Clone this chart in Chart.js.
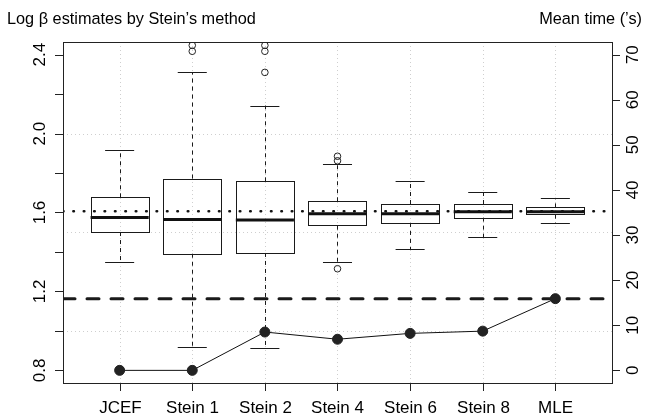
<!DOCTYPE html>
<html>
<head>
<meta charset="utf-8">
<script src="https://cdn.jsdelivr.net/npm/chart.js@4.4.0/dist/chart.umd.min.js"></script>
<style>
  html, body { margin: 0; padding: 0; background: #fff; }
  #wrap { width: 646px; height: 417px; }
</style>
</head>
<body>
<div id="wrap"><canvas id="boxChart" width="646" height="417"></canvas></div>
<script>
const categories = ['JCEF', 'Stein 1', 'Stein 2', 'Stein 4', 'Stein 6', 'Stein 8', 'MLE'];

// box statistics of the log beta estimates
const whiskerLow  = [1.350, 0.917, 0.915, 1.347, 1.415, 1.474, 1.545];
const boxLow      = [1.501, 1.391, 1.395, 1.533, 1.547, 1.574, 1.589];
const medians     = [1.575, 1.564, 1.562, 1.594, 1.594, 1.604, 1.604];
const boxHigh     = [1.677, 1.772, 1.758, 1.657, 1.643, 1.643, 1.626];
const whiskerHigh = [1.919, 2.310, 2.142, 1.846, 1.760, 1.704, 1.674];
const outliers    = [[], [2.417, 2.447], [2.310, 2.417, 2.447], [1.315, 1.862, 1.885], [], [], []];

// mean computing time, right axis
const meanTimes = [0, 0, 8.5, 6.9, 8.2, 8.7, 15.9];

const trueLogBeta = 1.606;   // dotted line
const mleTime = 15.9;        // dashed line

const leftTicks = [0.8, 1.0, 1.2, 1.4, 1.6, 1.8, 2.0, 2.2, 2.4];
const leftLabels = ['0.8', '1.2', '1.6', '2.0', '2.4'];
const rightTicks = [0, 10, 20, 30, 40, 50, 60, 70];
const gridY = [1.0, 1.5, 2.0];

const xMin = 0.22, xMax = 7.78;
const FONT = '17px "Liberation Sans", Arial, Helvetica, sans-serif';
const TITLE_FONT = '16.3px "Liberation Sans", Arial, Helvetica, sans-serif';

function px(v) { return Math.round(v) + 0.5; }

const rStyle = {
  id: 'rStyle',
  beforeDatasetsDraw(chart) {
    const ctx = chart.ctx;
    const area = chart.chartArea;
    const xs = chart.scales.x, ys = chart.scales.y;
    ctx.save();

    // dotted grid
    ctx.strokeStyle = '#cfcfcf';
    ctx.lineWidth = 1;
    ctx.setLineDash([1, 3]);
    categories.forEach((c, i) => {
      const x = px(xs.getPixelForValue(i + 1));
      ctx.beginPath(); ctx.moveTo(x, area.top); ctx.lineTo(x, area.bottom); ctx.stroke();
    });
    gridY.forEach(v => {
      const y = px(ys.getPixelForValue(v));
      ctx.beginPath(); ctx.moveTo(area.left, y); ctx.lineTo(area.right, y); ctx.stroke();
    });

    // boxes
    categories.forEach((c, i) => {
      const cx = xs.getPixelForValue(i + 1);
      const half = xs.getPixelForValue(i + 1.4) - cx;
      const cap = xs.getPixelForValue(i + 1.2) - cx;
      const yWl = ys.getPixelForValue(whiskerLow[i]);
      const yWh = ys.getPixelForValue(whiskerHigh[i]);
      const yBl = ys.getPixelForValue(boxLow[i]);
      const yBh = ys.getPixelForValue(boxHigh[i]);
      const yMed = ys.getPixelForValue(medians[i]);
      const xc = px(cx);

      ctx.strokeStyle = '#1a1a1a';
      ctx.lineWidth = 1;
      ctx.setLineDash([4, 4]);
      ctx.beginPath();
      ctx.moveTo(xc, yBh); ctx.lineTo(xc, yWh);
      ctx.moveTo(xc, yBl); ctx.lineTo(xc, yWl);
      ctx.stroke();

      ctx.setLineDash([]);
      ctx.beginPath();
      ctx.moveTo(cx - cap, px(yWh)); ctx.lineTo(cx + cap, px(yWh));
      ctx.moveTo(cx - cap, px(yWl)); ctx.lineTo(cx + cap, px(yWl));
      ctx.stroke();

      ctx.strokeRect(px(cx - half), px(yBh), Math.round(2 * half), Math.round(yBl - yBh));

      ctx.lineWidth = 3;
      ctx.strokeStyle = '#111';
      ctx.beginPath();
      ctx.moveTo(cx - half, yMed); ctx.lineTo(cx + half, yMed);
      ctx.stroke();
    });
    ctx.restore();
  },
  afterDraw(chart) {
    const ctx = chart.ctx;
    const area = chart.chartArea;
    const xs = chart.scales.x, ys = chart.scales.y, y2 = chart.scales.y2;
    ctx.save();
    ctx.strokeStyle = '#222';
    ctx.lineWidth = 1;
    ctx.setLineDash([]);
    ctx.strokeRect(px(area.left), px(area.top), Math.round(area.right - area.left), Math.round(area.bottom - area.top));

    ctx.fillStyle = '#000';
    ctx.font = FONT;

    // bottom axis
    ctx.textAlign = 'center';
    ctx.textBaseline = 'alphabetic';
    categories.forEach((c, i) => {
      const x = px(xs.getPixelForValue(i + 1));
      ctx.beginPath(); ctx.moveTo(x, area.bottom); ctx.lineTo(x, area.bottom + 8); ctx.stroke();
      ctx.fillText(c, x, 413);
    });

    // left axis
    leftTicks.forEach(v => {
      const y = px(ys.getPixelForValue(v));
      ctx.beginPath(); ctx.moveTo(area.left - 8, y); ctx.lineTo(area.left, y); ctx.stroke();
    });
    leftLabels.forEach(l => {
      const y = ys.getPixelForValue(parseFloat(l));
      ctx.save();
      ctx.translate(45, y);
      ctx.rotate(-Math.PI / 2);
      ctx.fillText(l, 0, 0);
      ctx.restore();
    });

    // right axis
    rightTicks.forEach(v => {
      const y = y2.getPixelForValue(v);
      ctx.beginPath(); ctx.moveTo(area.right, px(y)); ctx.lineTo(area.right + 8, px(y)); ctx.stroke();
      ctx.save();
      ctx.translate(638, y);
      ctx.rotate(-Math.PI / 2);
      ctx.fillText(String(v), 0, 0);
      ctx.restore();
    });

    // titles
    ctx.font = TITLE_FONT;
    ctx.textAlign = 'left';
    ctx.fillText('Log \u03b2 estimates by Stein\u2019s method', 7, 24);
    ctx.textAlign = 'right';
    ctx.fillText('Mean time (\u2019s)', 642, 24);
    ctx.restore();
  }
};

const outlierPoints = [];
outliers.forEach((list, i) => list.forEach(v => outlierPoints.push({ x: i + 1, y: v })));

new Chart(document.getElementById('boxChart'), {
  type: 'line',
  data: {
    datasets: [{
      label: 'Mean time',
      data: meanTimes.map((t, i) => ({ x: i + 1, y: t })),
      yAxisID: 'y2',
      borderColor: '#111',
      borderWidth: 1,
      pointRadius: 5,
      pointBackgroundColor: '#222',
      pointBorderColor: '#222',
      tension: 0
    }, {
      label: 'Outliers',
      type: 'scatter',
      data: outlierPoints,
      yAxisID: 'y',
      pointStyle: 'circle',
      pointRadius: 3.3,
      borderWidth: 1,
      borderColor: '#222',
      backgroundColor: 'rgba(0,0,0,0)'
    }, {
      label: 'True value',
      data: [{ x: xMin, y: trueLogBeta }, { x: xMax, y: trueLogBeta }],
      yAxisID: 'y',
      borderColor: '#111',
      borderWidth: 2.6,
      borderDash: [0.5, 9.9],
      borderCapStyle: 'round',
      pointRadius: 0
    }, {
      label: 'MLE time',
      data: [{ x: xMin, y: mleTime }, { x: xMax, y: mleTime }],
      yAxisID: 'y2',
      borderColor: '#1a1a1a',
      borderWidth: 3,
      borderDash: [12, 12],
      borderCapStyle: 'round',
      pointRadius: 0
    }]
  },
  options: {
    responsive: false,
    animation: false,
    devicePixelRatio: 1,
    layout: { padding: { top: 42, left: 0, right: 0, bottom: 0 } },
    plugins: { legend: { display: false }, tooltip: { enabled: false } },
    scales: {
      x: {
        type: 'linear', min: xMin, max: xMax,
        ticks: { display: false }, grid: { display: false }, border: { display: false },
        afterFit: s => { s.height = 34; }
      },
      y: {
        position: 'left', min: 0.736, max: 2.464,
        ticks: { display: false }, grid: { display: false }, border: { display: false },
        afterFit: s => { s.width = 63; }
      },
      y2: {
        position: 'right', min: -2.8, max: 72.8,
        ticks: { display: false }, grid: { display: false }, border: { display: false },
        afterFit: s => { s.width = 34; }
      }
    }
  },
  plugins: [rStyle]
});
</script>
</body>
</html>
